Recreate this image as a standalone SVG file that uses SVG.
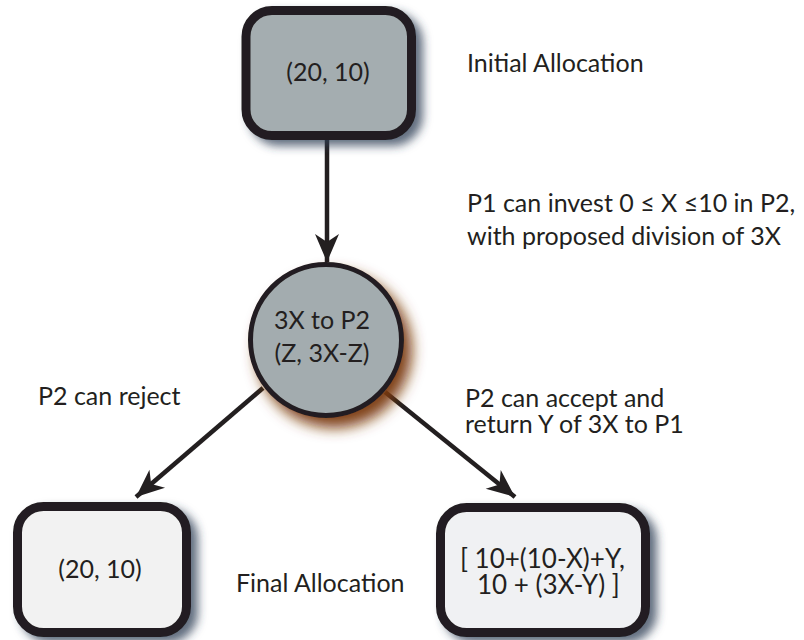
<svg xmlns="http://www.w3.org/2000/svg" width="804" height="640" viewBox="0 0 804 640">
<style>
.box{stroke:#231f20;stroke-width:9}
.t{font-family:Lato,"Open Sans","Liberation Sans",sans-serif;font-size:25px;fill:#231f20}
.b{font-size:26px}
.m{text-anchor:middle}
.c{stroke:#231f20;stroke-width:4.5;fill:none}
</style>
<defs>
<filter id="sh" x="-20%" y="-20%" width="150%" height="150%">
<feDropShadow dx="7" dy="6" stdDeviation="5" flood-color="#2e3c55" flood-opacity="0.75"/>
</filter>
<filter id="shc" x="-25%" y="-25%" width="160%" height="160%">
<feDropShadow dx="8" dy="10" stdDeviation="7" flood-color="#7a3a10" flood-opacity="0.95"/>
</filter>
<marker id="ah" markerUnits="userSpaceOnUse" viewBox="-30 -14 32 28" refX="0" refY="0" markerWidth="32" markerHeight="28" orient="auto">
<path d="M0,0 L-28,-12 L-20,0 L-28,12 Z" fill="#231f20"/>
</marker>
</defs>
<g id="connectors">
<line class="c" x1="327" y1="140" x2="327" y2="262" marker-end="url(#ah)"/>
<line class="c" x1="263" y1="388" x2="136" y2="497" marker-end="url(#ah)"/>
<line class="c" x1="385" y1="392" x2="515" y2="497" marker-end="url(#ah)"/>
</g>
<g id="initial">
<rect class="box" x="246" y="10.5" width="165.5" height="125" rx="26" fill="#a4adb0" filter="url(#sh)"/>
<text class="t m" x="328" y="81">(20, 10)</text>
</g>
<g id="choice">
<circle cx="326" cy="340" r="75.5" fill="#a3acaf" stroke="#231f20" stroke-width="5" filter="url(#shc)"/>
<text class="t m" x="322" y="329">3X to P2</text>
<text class="t m" x="322" y="362">(Z, 3X-Z)</text>
</g>
<g id="reject">
<rect class="box" x="17.5" y="506.5" width="169" height="126" rx="26" fill="#f2f2f2" filter="url(#sh)"/>
<text class="t m" x="100" y="578">(20, 10)</text>
</g>
<g id="accept">
<rect class="box" x="440.5" y="507.5" width="205" height="125" rx="26" fill="#f0f1f3" filter="url(#sh)"/>
<text class="t b" x="460" y="568">[ 10+(10-X)+Y,</text>
<text class="t b" x="477" y="594">10 + (3X-Y) ]</text>
</g>
<g id="labels">
<text class="t" x="467" y="72">Initial Allocation</text>
<text class="t" x="467" y="212">P1 can invest 0 ≤ X ≤10 in P2,</text>
<text class="t" x="467" y="245">with proposed division of 3X</text>
<text class="t" x="38" y="405">P2 can reject</text>
<text class="t" x="465" y="407">P2 can accept and</text>
<text class="t" x="465" y="433">return Y of 3X to P1</text>
<text class="t" x="236" y="592">Final Allocation</text>
</g>
</svg>
